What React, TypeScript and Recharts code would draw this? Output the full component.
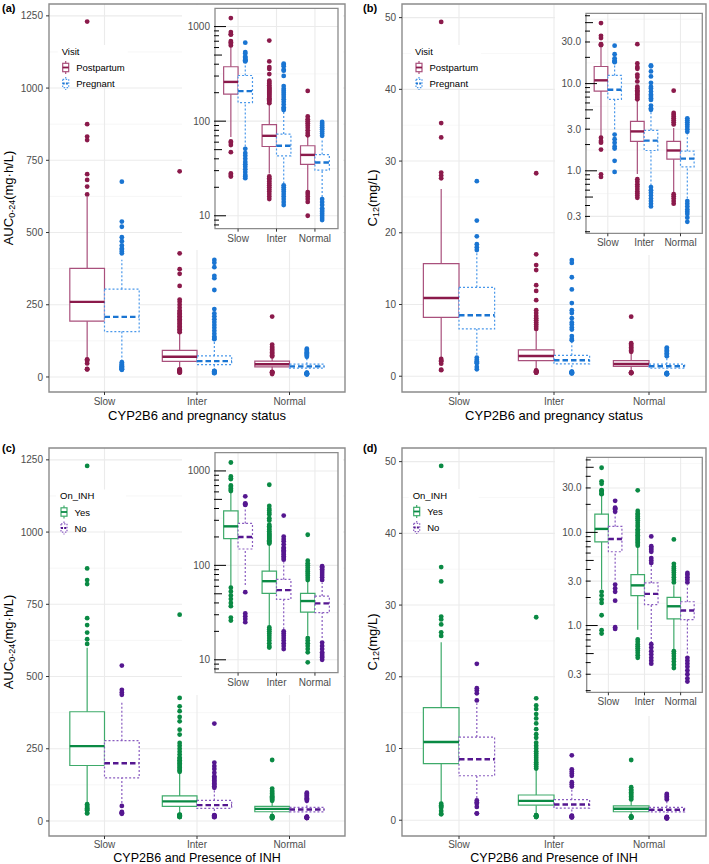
import React from "react";
import {
  ComposedChart,
  XAxis,
  YAxis,
  CartesianGrid,
  Scatter,
  ReferenceArea,
  ReferenceLine,
} from "recharts";

const categories = ["Slow", "Inter", "Normal"];
const visitLabels = ["Postpartum", "Pregnant"];
const inhLabels = ["Yes", "No"];

const aucTicks = [0, 250, 500, 750, 1000, 1250];
const aucMinor = [125, 375, 625, 875, 1125];
const c12Ticks = [0, 10, 20, 30, 40, 50];
const c12Minor = [5, 15, 25, 35, 45];
const aucLogLabels = [10, 100, 1000];
const aucLogMinor = [31.6, 316];
const c12LogLabels = [0.3, 1, 3, 10, 30];
const c12LogMinor = [0.548, 1.73, 5.48, 17.3, 54.8];

const aucDomain = [-52, 1291];
const c12Domain = [-2.2, 51.9];
const aucLogDomain = [7.3, 1560];
const c12LogDomain = [0.192, 64];

// [lower whisker, Q1, median, Q3, upper whisker] for Slow / Inter / Normal
const aucPostpartumBox = [[68, 193, 260, 376, 624], [28, 54, 70, 92, 150], [18.7, 35, 44, 55, 68]];
const aucPostpartumOut = [
  [1230, 875, 832, 820, 702, 682, 659, 632, 61, 59, 56, 47, 28, 27, 26],
  [712, 428, 373, 357, 315, 268, 260, 250, 240, 230, 225, 220, 215, 210, 205, 200, 195, 190, 185, 180, 175, 170, 165, 160, 155, 26, 25, 24, 23, 22, 21, 20, 19, 18, 17, 16, 15],
  [209, 112, 105, 100, 95, 90, 85, 80, 75, 71, 17.8, 17, 16, 15, 14, 10],
];
const aucPregnantBox = [[54, 157, 208, 304, 406], [22, 43, 55, 73, 128], [15.8, 30.4, 36.6, 44.4, 65]];
const aucPregnantOut = [
  [676, 538, 520, 484, 470, 455, 445, 440, 434, 428, 51, 46, 43, 40, 37, 35, 33, 31, 29, 27, 26, 25],
  [405, 395, 380, 350, 342, 301, 235, 220, 210, 200, 190, 180, 170, 160, 150, 140, 135, 131, 21, 20, 19, 18, 17, 16, 15, 14, 13],
  [98, 94, 90, 86, 82, 78, 74, 70, 15, 14, 13, 12, 11.5, 11, 10.5, 10, 9.5, 9],
];

const c12PostpartumBox = [[2.5, 8.2, 10.9, 15.7, 26.1], [0.92, 2.18, 2.83, 3.68, 6.3], [0.57, 1.36, 1.71, 2.18, 3.1]];
const c12PostpartumOut = [
  [49.4, 35.3, 33.3, 28.4, 28.0, 27.6, 2.4, 2.2, 2.1, 1.75, 0.91, 0.85],
  [28.3, 17.0, 15.5, 14.8, 12.7, 11.9, 10.6, 9.2, 8.8, 8.4, 8.1, 7.8, 7.5, 7.2, 6.9, 6.6, 0.8, 0.75, 0.7, 0.66, 0.62, 0.58, 0.55, 0.52, 0.49],
  [8.3, 4.6, 4.4, 4.2, 4.0, 3.8, 3.6, 3.4, 0.54, 0.51, 0.48, 0.45, 0.42],
];
const c12PregnantBox = [[3.0, 6.6, 8.5, 12.4, 17.2], [0.68, 1.71, 2.22, 2.91, 4.8], [0.48, 1.11, 1.38, 1.68, 2.6]];
const c12PregnantOut = [
  [27.2, 21.7, 19.5, 18.4, 18.0, 17.6, 2.6, 2.3, 2.1, 1.9, 1.8, 1.3, 0.97],
  [16.2, 15.8, 13.8, 12.1, 10.2, 9.2, 8.8, 8.1, 7.5, 7.2, 6.8, 6.5, 5.6, 5.2, 5.0, 0.65, 0.6, 0.56, 0.52, 0.48, 0.45, 0.42, 0.39],
  [4.0, 3.8, 3.6, 3.4, 3.2, 3.0, 2.8, 0.45, 0.42, 0.39, 0.36, 0.34, 0.32, 0.29, 0.26],
];

const aucYesBox = [[60, 192, 259, 378, 600], [22.8, 50.4, 68, 86.7, 167], [18, 32, 41.9, 50.4, 67]];
const aucYesOut = [
  [1229, 874, 834, 820, 702, 678, 652, 629, 613, 58, 53, 48, 44, 40, 37, 28, 26],
  [714, 426, 397, 380, 360, 345, 316, 299, 270, 260, 250, 240, 230, 220, 215, 210, 205, 200, 195, 190, 185, 180, 175, 170, 22, 21, 20, 19, 18, 17, 16, 15, 14, 13.5],
  [211, 112, 105, 100, 95, 90, 86, 82, 78, 74, 70, 17, 16, 15, 14, 13, 12, 9.4],
];
const aucNoBox = [[62, 149, 200, 278, 410], [21, 43.6, 54.7, 71, 108], [17, 31.6, 39.6, 47.3, 65]];
const aucNoOut = [
  [538, 454, 445, 437, 52, 31, 29, 27, 25],
  [337, 202, 190, 180, 167, 155, 150, 145, 140, 135, 130, 125, 120, 115, 20, 19, 18, 17, 16, 15, 14, 13],
  [98, 95, 91, 87, 83, 79, 75, 70, 15.2, 14, 13, 12, 11.5, 11, 10.6, 10],
];

const c12YesBox = [[2.45, 7.9, 10.9, 15.7, 24.8], [0.9, 2.1, 2.7, 3.52, 7.0], [0.55, 1.18, 1.61, 2.01, 2.7]];
const c12YesOut = [
  [49.4, 35.3, 33.3, 28.4, 28.0, 27.3, 26.2, 25.7, 2.3, 2.1, 1.9, 1.75, 1.29, 0.89, 0.82],
  [28.3, 17.0, 16.0, 15.5, 14.8, 14.2, 13.5, 12.7, 12.0, 11.5, 10.8, 10.4, 10.0, 9.6, 9.3, 9.0, 8.7, 8.4, 8.1, 7.8, 7.5, 7.2, 0.71, 0.67, 0.63, 0.6, 0.57, 0.54, 0.51, 0.48, 0.45],
  [8.4, 4.6, 4.3, 4.1, 3.9, 3.7, 3.5, 3.3, 3.1, 2.9, 0.53, 0.5, 0.47, 0.44, 0.41, 0.38, 0.35],
];
const c12NoBox = [[3.1, 6.2, 8.5, 11.6, 16.3], [0.65, 1.68, 2.19, 2.87, 4.5], [0.5, 1.16, 1.45, 1.8, 2.7]];
const c12NoOut = [
  [21.8, 18.4, 18.1, 17.7, 16.7, 2.75, 2.5, 2.3, 1.85, 0.96, 0.92],
  [9.05, 7.1, 6.8, 6.5, 6.2, 5.3, 5.0, 4.7, 0.63, 0.58, 0.53, 0.49, 0.45, 0.42, 0.39],
  [3.67, 3.5, 3.3, 3.1, 2.9, 0.45, 0.42, 0.39, 0.36, 0.33, 0.3, 0.27, 0.25],
];

type Group = { box: number[][]; out: number[][]; point: string; line: string; dotted: boolean };

const maroon = { point: "#8b1a4b", line: "#a9507c", dotted: false };
const blue = { point: "#1a75d2", line: "#4a98ea", dotted: true };
const green = { point: "#0a8a44", line: "#3eaa6a", dotted: false };
const purple = { point: "#551790", line: "#8a5cc0", dotted: true };

const panelA: Group[] = [
  { box: aucPostpartumBox, out: aucPostpartumOut, ...maroon },
  { box: aucPregnantBox, out: aucPregnantOut, ...blue },
];
const panelB: Group[] = [
  { box: c12PostpartumBox, out: c12PostpartumOut, ...maroon },
  { box: c12PregnantBox, out: c12PregnantOut, ...blue },
];
const panelC: Group[] = [
  { box: aucYesBox, out: aucYesOut, ...green },
  { box: aucNoBox, out: aucNoOut, ...purple },
];
const panelD: Group[] = [
  { box: c12YesBox, out: c12YesOut, ...green },
  { box: c12NoBox, out: c12NoOut, ...purple },
];

const FONT = "'Liberation Sans', Arial, sans-serif";
const TICK = { fontSize: 10, fill: "#4d4d4d" };
const HW = 0.1875;
const DODGE = [-0.1875, 0.1875];

// tick marks for annotation-style log ticks (inside the panel)
const logMarks = (lo: number, hi: number) => {
  const out: number[] = [];
  for (let e = -2; e <= 4; e++) {
    for (let m = 1; m <= 9; m++) {
      const v = +(m * Math.pow(10, e)).toPrecision(3);
      if (v >= lo && v <= hi) out.push(v);
    }
  }
  return out;
};

function renderBoxes(groups: Group[], prefix: string) {
  const areas: React.ReactNode[] = [];
  const lines: React.ReactNode[] = [];
  groups.forEach((g, gi) => {
    const dash = g.dotted ? "2 2" : undefined;
    g.box.forEach(([lo, q1, med, q3, hi], i) => {
      const cx = i + 1 + DODGE[gi];
      const k = `${prefix}-${gi}-${i}`;
      lines.push(
        <ReferenceLine key={`${k}-wl`} segment={[{ x: cx, y: lo }, { x: cx, y: q1 }]} stroke={g.line} strokeWidth={1.2} strokeDasharray={dash} />,
        <ReferenceLine key={`${k}-wh`} segment={[{ x: cx, y: q3 }, { x: cx, y: hi }]} stroke={g.line} strokeWidth={1.2} strokeDasharray={dash} />
      );
      areas.push(
        <ReferenceArea key={`${k}-box`} x1={cx - HW} x2={cx + HW} y1={q1} y2={q3} fill="#ffffff" fillOpacity={1} stroke={g.line} strokeWidth={1.2} strokeDasharray={dash} />
      );
      lines.push(
        <ReferenceLine key={`${k}-med`} segment={[{ x: cx - HW, y: med }, { x: cx + HW, y: med }]} stroke={g.point} strokeWidth={2.4} strokeDasharray={g.dotted ? "5.5 3" : undefined} />
      );
    });
  });
  return [...areas, ...lines];
}

function renderOutliers(groups: Group[], prefix: string) {
  return groups.map((g, gi) => {
    const data = g.out.flatMap((vals, i) => vals.map((y) => ({ x: i + 1 + DODGE[gi], y })));
    return (
      <Scatter
        key={`${prefix}-pts-${gi}`}
        data={data}
        isAnimationActive={false}
        shape={(p: any) => <circle cx={p.cx} cy={p.cy} r={2.4} fill={g.point} />}
      />
    );
  });
}

function MainChart(props: {
  left: number; top: number; width: number; yWidth: number; right: number; xMargin: number;
  groups: Group[]; domain: number[]; ticks: number[]; minor: number[]; id: string;
}) {
  const { left, top, width, yWidth, right, xMargin, groups, domain, ticks, minor, id } = props;
  return (
    <div style={{ position: "absolute", left, top }}>
      <ComposedChart width={width} height={430} margin={{ top: 4, right, left: 0, bottom: 0 }}>
        <CartesianGrid horizontalValues={minor} vertical={false} stroke="#f3f3f3" strokeWidth={0.7} />
        <CartesianGrid horizontalValues={ticks} verticalValues={[1, 2, 3]} stroke="#ebebeb" strokeWidth={1.1} />
        <XAxis
          type="number" dataKey="x" domain={[0.4, 3.6]} ticks={[1, 2, 3]} allowDataOverflow
          tickFormatter={(v) => categories[v - 1]} tick={TICK} tickLine={{ stroke: "#333" }}
          axisLine={false} tickSize={3} tickMargin={xMargin} height={38} interval={0}
        />
        <YAxis
          type="number" dataKey="y" domain={domain} ticks={ticks} allowDataOverflow
          tick={TICK} tickLine={{ stroke: "#333" }} axisLine={false} tickSize={3} tickMargin={3}
          width={yWidth} interval={0}
        />
        {renderBoxes(groups, id)}
        {renderOutliers(groups, id)}
        <ReferenceArea x1={0.4} x2={3.6} y1={domain[0]} y2={domain[1]} fill="none" stroke="#8c8c8c" strokeWidth={1.4} />
      </ComposedChart>
    </div>
  );
}

function InsetChart(props: {
  left: number; top: number; width: number; height: number; yWidth: number; mTop: number; mRight: number;
  xHeight: number; groups: Group[]; domain: number[]; labels: number[]; minor: number[]; decimals: boolean; id: string;
}) {
  const { left, top, width, height, yWidth, mTop, mRight, xHeight, groups, domain, labels, minor, decimals, id } = props;
  const marks = logMarks(domain[0], domain[1]);
  const LogTick = (tp: any) => {
    const { x, y, payload } = tp;
    const v = payload.value as number;
    const e = Math.floor(Math.log10(v) + 1e-9);
    const m = Math.round(v / Math.pow(10, e));
    const len = m === 1 ? 11 : m === 5 ? 7 : 4;
    const lab = labels.find((l) => Math.abs(l - v) < l * 1e-6);
    return (
      <g>
        <line x1={x - 1} x2={x + len} y1={y} y2={y} stroke="#000" strokeWidth={1} />
        {lab !== undefined && (
          <text x={x - 5} y={y} dy="0.35em" textAnchor="end" fontSize={10} fill="#4d4d4d">
            {decimals ? lab.toFixed(1) : String(lab)}
          </text>
        )}
      </g>
    );
  };
  return (
    <div style={{ position: "absolute", left, top, width, height, background: "#fff" }}>
      <ComposedChart width={width} height={height} margin={{ top: mTop, right: mRight, left: 0, bottom: 0 }}>
        <CartesianGrid horizontalValues={minor} vertical={false} stroke="#f3f3f3" strokeWidth={0.7} />
        <CartesianGrid horizontalValues={labels} verticalValues={[1, 2, 3]} stroke="#ebebeb" strokeWidth={1.1} />
        <XAxis
          type="number" dataKey="x" domain={[0.4, 3.6]} ticks={[1, 2, 3]} allowDataOverflow
          tickFormatter={(v) => categories[v - 1]} tick={TICK} tickLine={{ stroke: "#333" }}
          axisLine={false} tickSize={3} tickMargin={3} height={xHeight} interval={0}
        />
        <YAxis
          type="number" dataKey="y" scale="log" domain={domain} ticks={marks} allowDataOverflow
          tick={<LogTick />} tickLine={false} axisLine={false} tickSize={0} tickMargin={0}
          width={yWidth} interval={0}
        />
        {renderBoxes(groups, id)}
        {renderOutliers(groups, id)}
        <ReferenceArea x1={0.4} x2={3.6} y1={domain[0]} y2={domain[1]} fill="none" stroke="#8c8c8c" strokeWidth={1.3} />
      </ComposedChart>
    </div>
  );
}

function KeyGlyph({ x, y, g }: { x: number; y: number; g: { point: string; line: string; dotted: boolean } }) {
  const dash = g.dotted ? "1.5 1.5" : undefined;
  return (
    <g>
      <line x1={x} x2={x} y1={y - 6.5} y2={y + 6.5} stroke={g.line} strokeWidth={1.2} strokeDasharray={dash} />
      <rect x={x - 3} y={y - 4.2} width={6} height={8.4} fill="#fff" stroke={g.line} strokeWidth={1.2} strokeDasharray={dash} />
      <line x1={x - 3} x2={x + 3} y1={y} y2={y} stroke={g.point} strokeWidth={1.8} strokeDasharray={g.dotted ? "2 1.2" : undefined} />
    </g>
  );
}

function LegendBlock({ x, y, title, labels, styles }: { x: number; y: number; title: string; labels: string[]; styles: any[] }) {
  return (
    <g>
      <rect x={x - 4} y={y - 6} width={70} height={41} fill="#fff" />
      <text x={x} y={y + 3.5} fontSize={9.5} fill="#000">{title}</text>
      {labels.map((l, i) => (
        <g key={l}>
          <KeyGlyph x={x + 4} y={y + 16.5 + i * 16} g={styles[i]} />
          <text x={x + 14.5} y={y + 20 + i * 16} fontSize={9.5} fill="#000">{l}</text>
        </g>
      ))}
    </g>
  );
}

function YTitle({ x, y, main, sub, unit }: { x: number; y: number; main: string; sub: string; unit: string }) {
  return (
    <text transform={`translate(${x},${y}) rotate(-90)`} textAnchor="middle" fontSize={13} fill="#000">
      {main}
      <tspan fontSize={9} dy={2.5}>{sub}</tspan>
      <tspan dy={-2.5}>{unit}</tspan>
    </text>
  );
}

export default function App() {
  return (
    <div style={{ position: "absolute", left: 0, top: 0, width: 709, height: 864, overflow: "hidden", background: "#fff", fontFamily: FONT }}>
      <MainChart id="a" left={0} top={0} width={360} yWidth={49} right={15} xMargin={3} groups={panelA} domain={aucDomain} ticks={aucTicks} minor={aucMinor} />
      <MainChart id="b" left={360} top={0} width={349} yWidth={42} right={3} xMargin={3} groups={panelB} domain={c12Domain} ticks={c12Ticks} minor={c12Minor} />
      <MainChart id="c" left={0} top={444} width={360} yWidth={49} right={15} xMargin={1.5} groups={panelC} domain={aucDomain} ticks={aucTicks} minor={aucMinor} />
      <MainChart id="d" left={360} top={444} width={349} yWidth={42} right={3} xMargin={1.5} groups={panelD} domain={c12Domain} ticks={c12Ticks} minor={c12Minor} />

      <InsetChart id="ai" left={182} top={5} width={161} height={245} yWidth={33} mTop={3.3} mRight={5} xHeight={21.3}
        groups={panelA} domain={aucLogDomain} labels={aucLogLabels} minor={aucLogMinor} decimals={false} />
      <InsetChart id="bi" left={555} top={5} width={150} height={250} yWidth={31} mTop={8.3} mRight={2.7} xHeight={21.7}
        groups={panelB} domain={c12LogDomain} labels={c12LogLabels} minor={c12LogMinor} decimals={true} />
      <InsetChart id="ci" left={182} top={449} width={161} height={246} yWidth={33} mTop={3.7} mRight={5} xHeight={22.3}
        groups={panelC} domain={aucLogDomain} labels={aucLogLabels} minor={aucLogMinor} decimals={false} />
      <InsetChart id="di" left={555} top={449} width={150} height={267} yWidth={31.7} mTop={8.3} mRight={2.7} xHeight={23.7}
        groups={panelD} domain={c12LogDomain} labels={c12LogLabels} minor={c12LogMinor} decimals={true} />

      <svg width={709} height={864} style={{ position: "absolute", left: 0, top: 0, pointerEvents: "none", fontFamily: FONT }}>
        <text x={2} y={12.3} fontSize={11} fontWeight="bold">(a)</text>
        <text x={363} y={12.3} fontSize={11} fontWeight="bold">(b)</text>
        <text x={2} y={452} fontSize={11} fontWeight="bold">(c)</text>
        <text x={363} y={452} fontSize={11} fontWeight="bold">(d)</text>

        <YTitle x={12.5} y={198} main="AUC" sub="0-24" unit="(mg·h/L)" />
        <YTitle x={376.8} y={198} main="C" sub="12" unit="(mg/L)" />
        <YTitle x={12.5} y={642} main="AUC" sub="0-24" unit="(mg·h/L)" />
        <YTitle x={376.8} y={642} main="C" sub="12" unit="(mg/L)" />

        <text x={197} y={420} textAnchor="middle" fontSize={13}>CYP2B6 and pregnancy status</text>
        <text x={554} y={420} textAnchor="middle" fontSize={13}>CYP2B6 and pregnancy status</text>
        <text x={197} y={861.5} textAnchor="middle" fontSize={12.5}>CYP2B6 and Presence of INH</text>
        <text x={554} y={861.5} textAnchor="middle" fontSize={12.5}>CYP2B6 and Presence of INH</text>

        <LegendBlock x={61.7} y={51} title="Visit" labels={visitLabels} styles={[maroon, blue]} />
        <LegendBlock x={415} y={51} title="Visit" labels={visitLabels} styles={[maroon, blue]} />
        <LegendBlock x={60} y={495.5} title="On_INH" labels={inhLabels} styles={[green, purple]} />
        <LegendBlock x={412.7} y={495} title="On_INH" labels={inhLabels} styles={[green, purple]} />
      </svg>
    </div>
  );
}
